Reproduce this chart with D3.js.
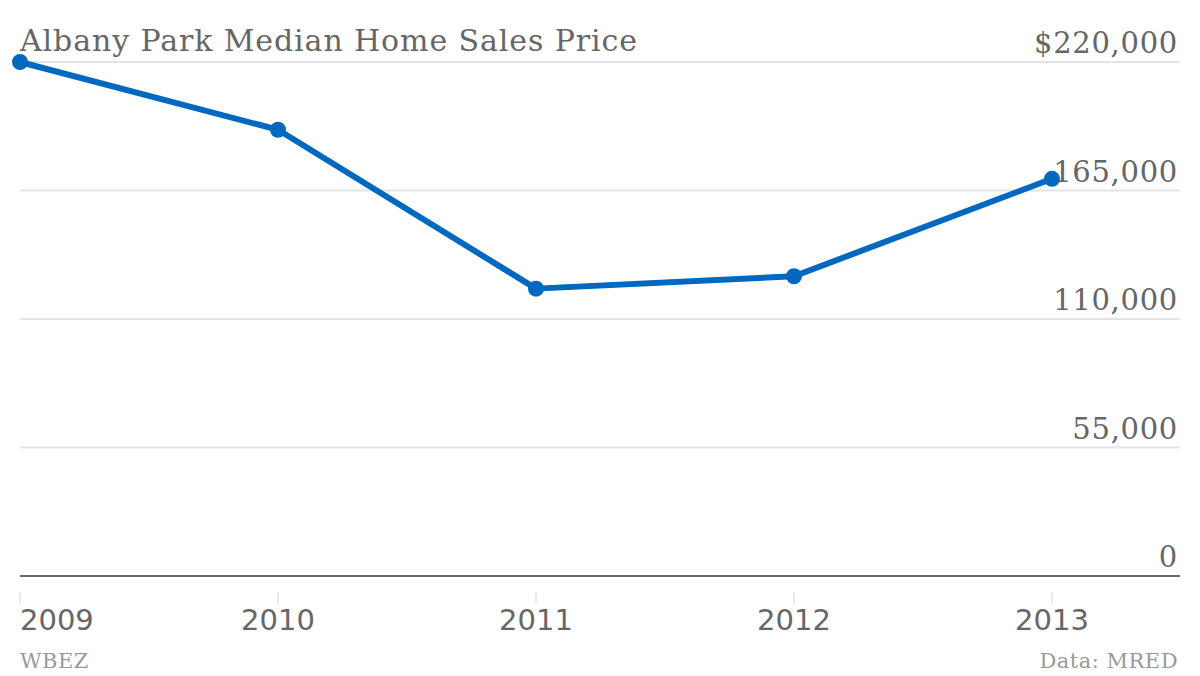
<!DOCTYPE html>
<html><head><meta charset="utf-8">
<script src="https://cdn.jsdelivr.net/npm/d3@7"></script>
<style>body{margin:0;background:#fff;}svg{display:block;}</style>
</head><body>
<svg id="c" width="1200" height="676"></svg>
<script>
const years = ["2009","2010","2011","2012","2013"];
const prices = [220000, 191000, 123000, 128300, 170000];
const yTicks = [0, 55000, 110000, 165000, 220000];
const yTickLabels = ["0","55,000","110,000","165,000","$220,000"];

const svg = d3.select("#c");
const font = "'DejaVu Serif', serif";
const x = d3.scalePoint().domain(years).range([20, 1052]);
const y = d3.scaleLinear().domain([0, 220000]).range([576, 62]);

// gridlines
svg.append("g").selectAll("line").data(yTicks.filter(d => d > 0)).join("line")
  .attr("x1", 20).attr("x2", 1180)
  .attr("y1", d => y(d)).attr("y2", d => y(d))
  .attr("stroke", "#e3e3e3").attr("stroke-width", 2);

// baseline
svg.append("line").attr("x1", 20).attr("x2", 1180)
  .attr("y1", y(0)).attr("y2", y(0))
  .attr("stroke", "#666").attr("stroke-width", 2);

// y tick labels
svg.append("g").selectAll("text").data(yTicks).join("text")
  .attr("x", 1178).attr("y", (d) => y(d) - 9)
  .attr("text-anchor", "end")
  .attr("font-family", font).attr("font-size", 29).attr("letter-spacing", 0.7).attr("fill", "#666")
  .text((d, i) => yTickLabels[i]);

// x ticks
svg.append("g").selectAll("line").data(years).join("line")
  .attr("x1", d => x(d)).attr("x2", d => x(d))
  .attr("y1", 592).attr("y2", 604)
  .attr("stroke", "#e3e3e3").attr("stroke-width", 1.5);

svg.append("g").selectAll("text").data(years).join("text")
  .attr("x", d => x(d)).attr("y", 630)
  .attr("text-anchor", (d, i) => i === 0 ? "start" : "middle")
  .attr("font-family", "'DejaVu Sans', sans-serif").attr("font-size", 29).attr("fill", "#666")
  .text(d => d);

// title
svg.append("text").attr("x", 20).attr("y", 51)
  .attr("font-family", font).attr("font-size", 30).attr("letter-spacing", 0.9).attr("fill", "#666")
  .text("Albany Park Median Home Sales Price");

// footer
svg.append("text").attr("x", 20).attr("y", 668)
  .attr("font-family", font).attr("font-size", 21).attr("letter-spacing", 0.5).attr("fill", "#999")
  .text("WBEZ");
svg.append("text").attr("x", 1178).attr("y", 668).attr("text-anchor", "end")
  .attr("font-family", font).attr("font-size", 21).attr("letter-spacing", 0.5).attr("fill", "#999")
  .text("Data: MRED");

// line
const data = years.map((d, i) => ({year: d, v: prices[i]}));
svg.append("path").datum(data)
  .attr("fill", "none").attr("stroke", "#0068bf").attr("stroke-width", 6)
  .attr("stroke-linejoin", "round")
  .attr("d", d3.line().x(d => x(d.year)).y(d => y(d.v)));
svg.append("g").selectAll("circle").data(data).join("circle")
  .attr("cx", d => x(d.year)).attr("cy", d => y(d.v)).attr("r", 8)
  .attr("fill", "#0068bf");
</script>
</body></html>
